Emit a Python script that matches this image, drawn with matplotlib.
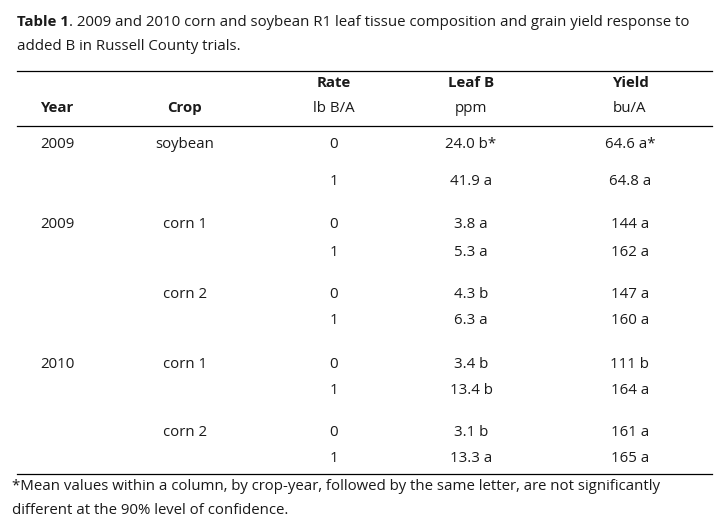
import matplotlib
matplotlib.use("Agg")
import matplotlib.pyplot as plt
from matplotlib.lines import Line2D

years = ["2009", "", "2009", "", "", "", "2010", "", "", ""]
crops = ["soybean", "", "corn 1", "", "corn 2", "", "corn 1", "", "corn 2", ""]
rates = ["0", "1", "0", "1", "0", "1", "0", "1", "0", "1"]
leaf_b = ["24.0 b*", "41.9 a", "3.8 a", "5.3 a", "4.3 b", "6.3 a", "3.4 b", "13.4 b", "3.1 b", "13.3 a"]
yields = ["64.6 a*", "64.8 a", "144 a", "162 a", "147 a", "160 a", "111 b", "164 a", "161 a", "165 a"]
row_y = [144, 181, 225, 252, 295, 321, 364, 390, 433, 459]

W, H = 727, 525
fig = plt.figure(figsize=(W/100, H/100), dpi=100)
fig.patch.set_facecolor("white")
FONT = "Open Sans"
FS = 10.8
col = "#1a1a1a"

def T(x, y, s, ha="center", bold=False, **kw):
    return fig.text(x/W, 1 - y/H, s, ha=ha, va="center", fontsize=FS, family=FONT,
                    fontweight="bold" if bold else "normal", color=col, **kw)

def rule(y):
    fig.add_artist(Line2D([17/W, 712/W], [1 - y/H]*2, color="black", lw=0.9))

# title
t1 = T(17, 22, "Table 1", ha="left", bold=True)
r = fig.canvas.get_renderer()
bb = t1.get_window_extent(renderer=r)
fig.text(bb.x1/W, 1 - 22/H, ". 2009 and 2010 corn and soybean R1 leaf tissue composition and grain yield response to",
         ha="left", va="center", fontsize=FS, family=FONT, color=col)
T(17, 46, "added B in Russell County trials.", ha="left")

rule(71)
xs = [57, 185, 334, 471, 630]
T(xs[2], 83, "Rate", bold=True)
T(xs[3], 83, "Leaf B", bold=True)
T(xs[4], 83, "Yield", bold=True)
T(xs[0], 108, "Year", bold=True)
T(xs[1], 108, "Crop", bold=True)
T(xs[2], 108, "lb B/A")
T(xs[3], 108, "ppm")
T(xs[4], 108, "bu/A")
rule(126)

for i, y in enumerate(row_y):
    for x, arr in zip(xs, [years, crops, rates, leaf_b, yields]):
        if arr[i]:
            T(x, y, arr[i])

rule(474)
T(12, 487, "*Mean values within a column, by crop-year, followed by the same letter, are not significantly", ha="left")
T(12, 511, "different at the 90% level of confidence.", ha="left")

fig.savefig("out.png", dpi=100, facecolor="white")
